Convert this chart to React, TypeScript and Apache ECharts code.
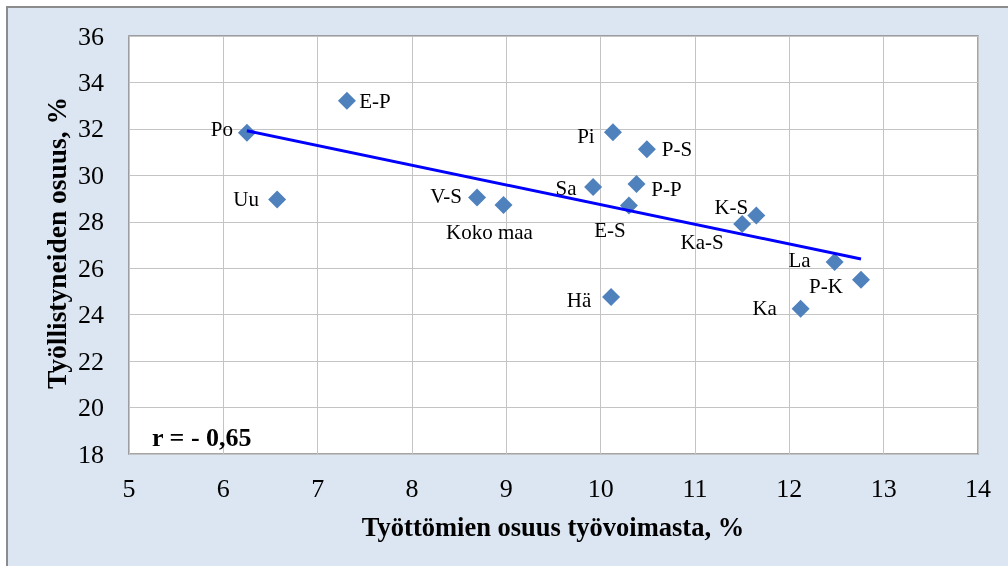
import React, { useEffect, useRef } from "react";
import * as echarts from "echarts";

const regions = ["Po", "Uu", "E-P", "V-S", "Koko maa", "Sa", "Pi", "P-S", "P-P", "E-S", "K-S", "Ka-S", "La", "P-K", "Hä", "Ka"];
const unemploymentShare = [6.25, 6.57, 7.31, 8.69, 8.97, 9.92, 10.13, 10.49, 10.38, 10.30, 11.65, 11.50, 12.48, 12.76, 10.11, 12.12];
const employedShare = [31.83, 28.96, 33.21, 29.05, 28.72, 29.5, 31.85, 31.12, 29.63, 28.7, 28.27, 27.9, 26.27, 25.5, 24.76, 24.25];
const trendLine = [[6.25, 31.92], [12.76, 26.4]];
const xTicks = { min: 5, max: 14, interval: 1 };
const yTicks = { min: 18, max: 36, interval: 2 };
const correlationText = "r = - 0,65";
const xTitle = "Työttömien osuus työvoimasta, %";
const yTitle = "Työllistyneiden osuus, %";

// label placement (style): offset of label centre from marker centre, px
const labelOffsets: Record<string, [number, number]> = {
  "Po": [-25, -4],
  "Uu": [-31, 0],
  "E-P": [28, 0],
  "V-S": [-31, -1],
  "Koko maa": [-14, 27],
  "Sa": [-27, 1],
  "Pi": [-27, 4],
  "P-S": [30, 0],
  "P-P": [30, 5],
  "E-S": [-19, 24],
  "K-S": [-25, -9],
  "Ka-S": [-40, 18],
  "La": [-35, -2],
  "P-K": [-35, 6],
  "Hä": [-32, 3],
  "Ka": [-36, -1],
};

const FONT = "'Liberation Serif', 'Times New Roman', serif";

export default function App() {
  const ref = useRef<HTMLDivElement>(null);
  useEffect(() => {
    if (!ref.current) return;
    const chart = echarts.init(ref.current, undefined, { renderer: "svg" });
    const scatterData = regions.map((name, i) => ({
      name,
      value: [unemploymentShare[i], employedShare[i]],
      label: {
        show: true,
        position: "inside",
        offset: labelOffsets[name] || [0, 0],
        formatter: name,
        color: "#000",
        fontSize: 21,
        fontFamily: FONT,
      },
    }));
    chart.setOption({
      animation: false,
      textStyle: { fontFamily: FONT },
      graphic: [
        {
          type: "rect",
          z: -10,
          silent: true,
          shape: { x: 7, y: 7, width: 1020, height: 580 },
          style: { fill: "#DCE6F2", stroke: "#8C8C8C", lineWidth: 2 },
        },
        {
          type: "text",
          x: 553,
          y: 527,
          style: {
            text: xTitle,
            fontFamily: FONT,
            fontWeight: "bold",
            fontSize: 26.5,
            fill: "#000",
            textAlign: "center",
            textVerticalAlign: "middle",
          },
        },
        {
          type: "text",
          x: 56,
          y: 243,
          rotation: Math.PI / 2,
          style: {
            text: yTitle,
            fontFamily: FONT,
            fontWeight: "bold",
            fontSize: 27.5,
            fill: "#000",
            textAlign: "center",
            textVerticalAlign: "middle",
          },
        },
        {
          type: "text",
          x: 152,
          y: 437,
          z: 100,
          style: {
            text: correlationText,
            fontFamily: FONT,
            fontWeight: "bold",
            fontSize: 26,
            fill: "#000",
            textAlign: "left",
            textVerticalAlign: "middle",
          },
        },
      ],
      grid: {
        left: 129,
        right: 30,
        top: 36,
        bottom: 112,
        show: true,
        backgroundColor: "#FFFFFF",
        borderColor: "#868686",
        borderWidth: 1.5,
      },
      xAxis: {
        type: "value",
        min: xTicks.min,
        max: xTicks.max,
        interval: xTicks.interval,
        axisLine: { show: false },
        axisTick: { show: false },
        splitLine: { show: true, lineStyle: { color: "#C4C4C4", width: 1 } },
        axisLabel: { fontSize: 26, color: "#000", fontFamily: FONT, margin: 21 },
      },
      yAxis: {
        type: "value",
        min: yTicks.min,
        max: yTicks.max,
        interval: yTicks.interval,
        axisLine: { show: false },
        axisTick: { show: false },
        splitLine: { show: true, lineStyle: { color: "#C4C4C4", width: 1 } },
        axisLabel: { fontSize: 26, color: "#000", fontFamily: FONT, margin: 25 },
      },
      series: [
        {
          type: "scatter",
          symbol: "diamond",
          symbolSize: 18,
          itemStyle: { color: "#4F81BD", opacity: 1 },
          data: scatterData,
          z: 3,
        },
        {
          type: "line",
          data: trendLine,
          symbol: "none",
          lineStyle: { color: "#0000FF", width: 3 },
          z: 4,
          silent: true,
        },
      ],
    });
    return () => chart.dispose();
  }, []);
  return (
    <div
      ref={ref}
      style={{ position: "fixed", left: 0, top: 0, width: 1008, height: 566 }}
    />
  );
}
